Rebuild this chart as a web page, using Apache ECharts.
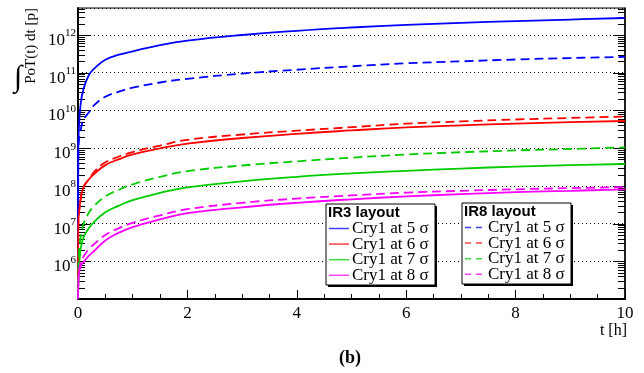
<!DOCTYPE html>
<html>
<head>
<meta charset="utf-8">
<script src="https://cdn.jsdelivr.net/npm/echarts@6/dist/echarts.min.js"></script>
<style>
  html, body { margin: 0; padding: 0; background: #fff; }
  #chart { width: 644px; height: 373px; }
</style>
</head>
<body>
<div id="chart"></div>
<script>
// Integrated protons on target vs. time, for crystal positions 5–8 sigma
const hours = [0, 0.005, 0.013, 0.044, 0.1, 0.2, 0.3, 0.5, 0.75, 1, 1.5, 2, 3, 4, 5, 6, 7, 8, 9, 10];

// IR3 layout (solid)
const ir3At5 = [1e5, 8.9e8, 2.6e9, 1.3e10, 3.7e10, 8.7e10, 1.3e11, 2.2e11, 3.0e11, 3.7e11, 5.4e11, 7.1e11, 1.0e12, 1.29e12, 1.58e12, 1.86e12, 2.09e12, 2.34e12, 2.57e12, 2.82e12];
const ir3At6 = [1e5, 8e6, 1.6e7, 4.0e7, 8.9e7, 1.5e8, 2.1e8, 3.55e8, 5.1e8, 6.8e8, 9.8e8, 1.32e9, 1.86e9, 2.4e9, 2.95e9, 3.55e9, 4.03e9, 4.47e9, 4.9e9, 5.25e9];
const ir3At7 = [1e5, 2e5, 4.6e5, 1.86e6, 4.3e6, 7.6e6, 1.12e7, 2.0e7, 3.0e7, 4.2e7, 6.5e7, 9.1e7, 1.32e8, 1.74e8, 2.14e8, 2.51e8, 2.88e8, 3.24e8, 3.55e8, 3.8e8];
const ir3At8 = [1e5, 2e5, 4e5, 7.1e5, 9.5e5, 1.41e6, 1.9e6, 3.55e6, 5.75e6, 8.1e6, 1.29e7, 1.9e7, 2.7e7, 3.55e7, 4.4e7, 5.25e7, 6.0e7, 6.8e7, 7.4e7, 8.1e7];

// IR8 layout (dashed)
const ir8At5 = [1e5, 5.0e8, 1.4e9, 2.8e9, 5.6e9, 8.9e9, 1.4e10, 2.3e10, 3.16e10, 4.0e10, 5.5e10, 6.9e10, 9.5e10, 1.2e11, 1.48e11, 1.78e11, 2.0e11, 2.24e11, 2.45e11, 2.63e11];
const ir8At6 = [1e5, 6.3e6, 1.4e7, 4.0e7, 9.5e7, 1.5e8, 2.4e8, 4.2e8, 6.0e8, 7.9e8, 1.17e9, 1.66e9, 2.3e9, 2.9e9, 3.6e9, 4.45e9, 5.1e9, 5.75e9, 6.3e9, 6.9e9];
const ir8At7 = [1e5, 4e5, 1.26e6, 4.0e6, 9.5e6, 1.95e7, 2.95e7, 5.25e7, 7.9e7, 1.1e8, 1.74e8, 2.45e8, 3.47e8, 4.47e8, 5.6e8, 6.8e8, 7.8e8, 8.7e8, 9.5e8, 1.05e9];
const ir8At8 = [1e5, 2.5e5, 5e5, 8.9e5, 1.32e6, 2.1e6, 2.9e6, 5.0e6, 7.6e6, 1.05e7, 1.66e7, 2.4e7, 3.55e7, 4.6e7, 5.6e7, 6.6e7, 7.4e7, 8.1e7, 8.7e7, 9.3e7];

const entryLabels = ['Cry1 at 5 σ', 'Cry1 at 6 σ', 'Cry1 at 7 σ', 'Cry1 at 8 σ'];
const lineColors = ['#0000ff', '#ff0000', '#00cc00', '#ff00ff'];
const xTickStep = 2;
const yLabelExponents = [6, 7, 8, 9, 10, 11, 12];

const yMin = 1e5, yMax = 5.2e12;
const serif = 'Liberation Serif';
const sans = 'Liberation Sans';

const ir3Sets = [ir3At5, ir3At6, ir3At7, ir3At8];
const ir8Sets = [ir8At5, ir8At6, ir8At7, ir8At8];

function toPairs(vals) { return hours.map((t, i) => [t, vals[i]]); }

function lineSeries(vals, color, dashed) {
  return {
    type: 'line',
    data: toPairs(vals),
    showSymbol: false,
    symbol: 'none',
    smooth: 0.45,
    clip: true,
    lineStyle: { color: color, width: 1.8, type: dashed ? [9, 5] : 'solid' },
    z: 3
  };
}

// Tick marks on both vertical edges: decades are major, 2..9 multiples are minor
const tickMarks = [];
for (let e = 5; e <= 12; e++) {
  for (let m = 1; m <= 9; m++) {
    const v = m * Math.pow(10, e);
    if (v > yMin * 1.0001 && v <= yMax) tickMarks.push([0, v, m === 1 ? 1 : 0]);
  }
}

const series = [];
ir3Sets.forEach((s, i) => series.push(lineSeries(s, lineColors[i], false)));
ir8Sets.forEach((s, i) => series.push(lineSeries(s, lineColors[i], true)));
series.push({
  type: 'custom',
  data: tickMarks,
  silent: true,
  z: 2,
  renderItem: function (params, api) {
    const y = Math.round(api.coord([0, api.value(1)])[1]) + 0.5;
    const cs = params.coordSys;
    const len = api.value(2) ? 12 : 7;
    return {
      type: 'group',
      children: [
        { type: 'line', shape: { x1: cs.x, y1: y, x2: cs.x + len, y2: y }, style: { stroke: '#000', lineWidth: 1 } },
        { type: 'line', shape: { x1: cs.x + cs.width - len, y1: y, x2: cs.x + cs.width, y2: y }, style: { stroke: '#000', lineWidth: 1 } }
      ]
    };
  }
});

function legendBox(left, top, title, dashed) {
  const w = 109, h = 81;
  const els = [
    { type: 'rect', shape: { x: left + 2, y: top + 2, width: w, height: h }, style: { fill: '#000' }, z: 20 },
    { type: 'rect', shape: { x: left, y: top, width: w, height: h }, style: { fill: '#fff', stroke: '#000', lineWidth: 1 }, z: 21 },
    { type: 'text', x: left + 2, y: top + 9, style: { text: title, font: 'bold 15px "' + sans + '"', fill: '#000', textVerticalAlign: 'middle' }, z: 22 }
  ];
  entryLabels.forEach((lab, i) => {
    const y = top + 24.5 + i * 15.6;
    els.push({ type: 'line', shape: { x1: left + 3, y1: y, x2: left + 23, y2: y },
      style: { stroke: lineColors[i], lineWidth: 1.5, lineDash: dashed ? [6, 5] : null, opacity: 0.75 }, z: 22 });
    els.push({ type: 'text', x: left + 26, y: y, style: { text: lab, font: '17px "' + serif + '"', fill: '#000', textVerticalAlign: 'middle' }, z: 22 });
  });
  return els;
}

const chart = echarts.init(document.getElementById('chart'), null, { renderer: 'canvas' });
chart.setOption({
  animation: false,
  backgroundColor: '#fff',
  grid: { left: 78, right: 19, top: 8, bottom: 74, show: true, borderColor: '#000', borderWidth: 1, backgroundColor: 'transparent' },
  xAxis: {
    type: 'value', min: 0, max: 10, interval: xTickStep,
    axisLine: { show: true, onZero: false, lineStyle: { color: '#000', width: 2 } },
    axisTick: { show: true, inside: true, length: 9, lineStyle: { color: '#000', width: 1 } },
    minorTick: { show: true, splitNumber: 4, length: 5, lineStyle: { color: '#000', width: 1 } },
    splitLine: { show: false },
    axisLabel: { color: '#000', fontFamily: serif, fontSize: 17, margin: 6 }
  },
  yAxis: [
    {
      type: 'log', logBase: 10, min: yMin, max: yMax, position: 'left',
      axisLine: { show: true, lineStyle: { color: '#000', width: 2 } },
      axisTick: { show: false },
      splitLine: { show: true, lineStyle: { color: '#000', width: 1, type: [1, 3] } },
      axisLabel: {
        margin: 2,
        formatter: function (v) {
          const e = Math.round(Math.log10(v));
          if (Math.abs(Math.log10(v) - e) > 1e-6 || yLabelExponents.indexOf(e) < 0) return '';
          return '{b|10}{s|' + e + '}';
        },
        rich: {
          b: { fontFamily: serif, fontSize: 17, lineHeight: 17, color: '#000', padding: [11, 0, 0, 0] },
          s: { fontFamily: serif, fontSize: 11, lineHeight: 11, color: '#000', padding: [7, 0, 10, 0] }
        }
      }
    },
    {
      type: 'log', logBase: 10, min: yMin, max: yMax, position: 'right',
      axisLine: { show: true, lineStyle: { color: '#000', width: 1.5 } },
      axisTick: { show: false }, axisLabel: { show: false }, splitLine: { show: false }
    }
  ],
  series: series,
  graphic: [
    { type: 'text', x: 31, y: 8, rotation: Math.PI / 2,
      style: { text: 'PoT(t) dt [p]', font: '15px "' + serif + '"', fill: '#000', textAlign: 'right', textVerticalAlign: 'middle' } },
    { type: 'text', x: 18, y: 78,
      style: { text: '∫', font: '30px "' + serif + '"', fill: '#000', textAlign: 'center', textVerticalAlign: 'middle' } },
    { type: 'text', x: 627, y: 331,
      style: { text: 't [h]', font: '16px "' + serif + '"', fill: '#000', textAlign: 'right', textVerticalAlign: 'middle' } },
    { type: 'text', x: 350, y: 358,
      style: { text: '(b)', font: 'bold 18px "' + serif + '"', fill: '#000', textAlign: 'center', textVerticalAlign: 'middle' } }
  ].concat(legendBox(326, 204, 'IR3 layout', false), legendBox(462, 203, 'IR8 layout', true))
});
</script>
</body>
</html>
